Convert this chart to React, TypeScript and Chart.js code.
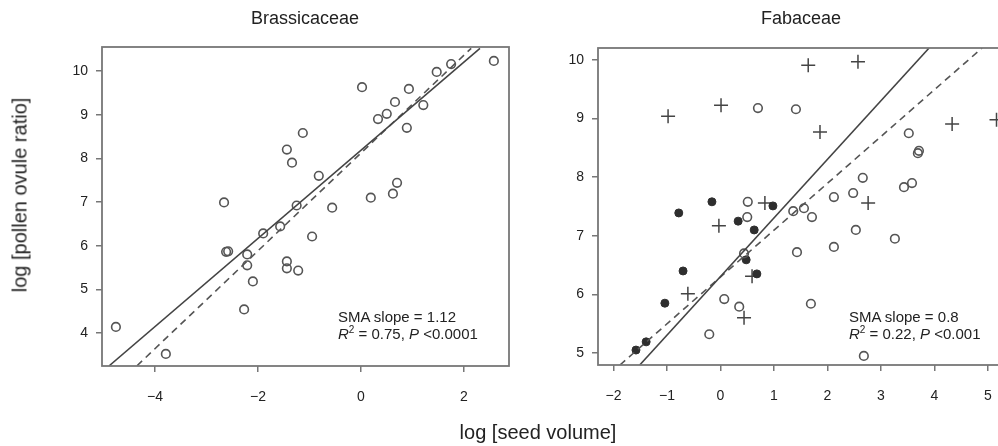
import React, { useEffect, useRef } from "react";
import { Chart, registerables } from "chart.js";

Chart.register(...registerables);

const FONT = '"Liberation Sans", Arial, Helvetica, sans-serif';
const INK = "#222222";

// ---------- Brassicaceae ----------
const brassSeed = [-4.76, -3.79, -2.66, -2.62, -2.58, -2.21, -2.21, -2.1, -2.27, -1.9, -1.57, -1.25, -1.44, -1.44, -1.22, -0.95, -0.56, 0.02, -1.13, -1.44, -1.34, -0.82, 0.19, 0.62, 0.7, 0.33, 0.5, 0.66, 0.93, 0.89, 1.21, 1.47, 1.75, 2.58];
const brassPollen = [4.14, 3.52, 6.99, 5.86, 5.87, 5.8, 5.55, 5.18, 4.54, 6.28, 6.44, 6.92, 5.64, 5.48, 5.43, 6.21, 6.87, 9.63, 8.58, 8.2, 7.9, 7.6, 7.1, 7.19, 7.44, 8.9, 9.02, 9.29, 9.59, 8.7, 9.22, 9.98, 10.16, 10.23];
const brassSolidX = [-4.89, 2.31];
const brassSolidY = [3.25, 10.52];
const brassDashX = [-4.35, 2.14];
const brassDashY = [3.25, 10.52];
const brassXTicks = [-4, -2, 0, 2];
const brassYTicks = [4, 5, 6, 7, 8, 9, 10];

// ---------- Fabaceae ----------
const fabOpenSeed = [0.7, 1.41, 3.52, 3.69, 3.71, 2.66, 3.43, 3.58, 2.12, 2.48, 1.36, 1.56, 1.71, 0.51, 0.5, 0.44, 0.07, 0.35, -0.21, 1.43, 2.12, 2.53, 3.26, 1.69, 2.68];
const fabOpenPollen = [9.18, 9.16, 8.75, 8.41, 8.45, 7.99, 7.83, 7.9, 7.66, 7.73, 7.42, 7.47, 7.32, 7.58, 7.32, 6.7, 5.92, 5.79, 5.32, 6.72, 6.81, 7.1, 6.95, 5.84, 4.95];
const fabFilledSeed = [-0.78, -0.16, 0.33, 0.63, -0.7, -1.04, 0.48, 0.68, -1.39, -1.58, 0.98];
const fabFilledPollen = [7.39, 7.58, 7.25, 7.1, 6.4, 5.85, 6.59, 6.35, 5.19, 5.05, 7.51];
const fabPlusSeed = [-0.98, 0.01, 1.64, 2.57, 1.86, 4.33, 5.16, 0.83, 2.76, -0.03, -0.61, 0.44, 0.59];
const fabPlusPollen = [9.04, 9.23, 9.91, 9.97, 8.77, 8.91, 8.98, 7.56, 7.56, 7.17, 6.01, 5.6, 6.31];
const fabSolidX = [-1.51, 3.9];
const fabSolidY = [4.795, 10.205];
const fabDashX = [-1.88, 4.89];
const fabDashY = [4.795, 10.205];
const fabXTicks = [-2, -1, 0, 1, 2, 3, 4, 5];
const fabYTicks = [5, 6, 7, 8, 9, 10];

const zip = (xs: number[], ys: number[]) => xs.map((x, i) => ({ x, y: ys[i] }));
const fmt = (v: number) => (v < 0 ? "\u2212" + Math.abs(v) : String(v));

const boxPlugin = {
  id: "panelBox",
  afterDatasetsDraw(chart: any) {
    const { ctx, chartArea: a } = chart;
    ctx.save();
    ctx.strokeStyle = "#777777";
    ctx.lineWidth = 1.8;
    ctx.strokeRect(a.left, a.top, a.right - a.left, a.bottom - a.top);
    ctx.restore();
  },
};

const openStyle = {
  pointStyle: "circle",
  pointRadius: 4.3,
  pointBorderWidth: 1.6,
  pointBackgroundColor: "rgba(0,0,0,0)",
  pointBorderColor: "#555555",
  showLine: false,
};
const filledStyle = {
  pointStyle: "circle",
  pointRadius: 4,
  pointBorderWidth: 1,
  pointBackgroundColor: "#2e2e2e",
  pointBorderColor: "#2e2e2e",
  showLine: false,
};
const plusStyle = {
  pointStyle: "cross",
  pointRadius: 7,
  pointBorderWidth: 1.5,
  pointBackgroundColor: "#444444",
  pointBorderColor: "#444444",
  showLine: false,
};
const solidLine = {
  showLine: true,
  pointRadius: 0,
  borderColor: "#444444",
  borderWidth: 1.6,
};
const dashLine = {
  showLine: true,
  pointRadius: 0,
  borderColor: "#555555",
  borderWidth: 1.6,
  borderDash: [7, 5],
};

function panelOptions(cfg: any) {
  return {
    responsive: false,
    maintainAspectRatio: false,
    animation: false,
    devicePixelRatio: 1,
    events: [],
    layout: { padding: { left: 0, top: cfg.top, right: cfg.padRight, bottom: 0 } },
    plugins: { legend: { display: false }, tooltip: { enabled: false }, title: { display: false } },
    scales: {
      x: {
        type: "linear",
        min: cfg.xMin,
        max: cfg.xMax,
        afterBuildTicks: (s: any) => {
          s.ticks = cfg.xTicks.map((v: number) => ({ value: v }));
        },
        afterFit: (s: any) => {
          s.height = cfg.xAxisHeight;
        },
        ticks: {
          callback: (v: any) => fmt(Number(v)),
          font: { family: FONT, size: 14 },
          color: INK,
          padding: 17,
          maxRotation: 0,
          autoSkip: false,
        },
        grid: { display: true, drawOnChartArea: false, drawTicks: true, tickLength: 6, color: "#777777", lineWidth: 1.5 },
        border: { display: false },
      },
      y: {
        type: "linear",
        min: cfg.yMin,
        max: cfg.yMax,
        afterBuildTicks: (s: any) => {
          s.ticks = cfg.yTicks.map((v: number) => ({ value: v }));
        },
        afterFit: (s: any) => {
          s.width = cfg.yAxisWidth;
        },
        ticks: {
          callback: (v: any) => fmt(Number(v)),
          font: { family: FONT, size: 14 },
          color: INK,
          padding: 8,
          autoSkip: false,
        },
        grid: { display: true, drawOnChartArea: false, drawTicks: true, tickLength: 6, color: "#777777", lineWidth: 1.5 },
        border: { display: false },
      },
    },
  };
}

const abs = (left: number, top: number, extra: any = {}) => ({
  position: "absolute" as const,
  left,
  top,
  whiteSpace: "nowrap" as const,
  fontFamily: FONT,
  color: INK,
  ...extra,
});

const sup = { fontSize: 10, position: "relative" as const, top: -6 };

export default function App() {
  const leftRef = useRef<HTMLCanvasElement>(null);
  const rightRef = useRef<HTMLCanvasElement>(null);

  useEffect(() => {
    const left = new Chart(leftRef.current as HTMLCanvasElement, {
      type: "scatter",
      data: {
        datasets: [
          { ...solidLine, data: zip(brassSolidX, brassSolidY) },
          { ...dashLine, data: zip(brassDashX, brassDashY) },
          { ...openStyle, data: zip(brassSeed, brassPollen) },
        ] as any,
      },
      options: panelOptions({
        top: 47,
        padRight: 21,
        xMin: -5.03,
        xMax: 2.874,
        yMin: 3.244,
        yMax: 10.55,
        xTicks: brassXTicks,
        yTicks: brassYTicks,
        xAxisHeight: 80,
        yAxisWidth: 102,
      }) as any,
      plugins: [boxPlugin],
    });
    const right = new Chart(rightRef.current as HTMLCanvasElement, {
      type: "scatter",
      data: {
        datasets: [
          { ...solidLine, data: zip(fabSolidX, fabSolidY) },
          { ...dashLine, data: zip(fabDashX, fabDashY) },
          { ...openStyle, data: zip(fabOpenSeed, fabOpenPollen) },
          { ...filledStyle, data: zip(fabFilledSeed, fabFilledPollen) },
          { ...plusStyle, data: zip(fabPlusSeed, fabPlusPollen) },
        ] as any,
      },
      options: panelOptions({
        top: 48,
        padRight: 16,
        xMin: -2.29,
        xMax: 5.3,
        yMin: 4.795,
        yMax: 10.205,
        xTicks: fabXTicks,
        yTicks: fabYTicks,
        xAxisHeight: 81,
        yAxisWidth: 68,
      }) as any,
      plugins: [boxPlugin],
    });
    return () => {
      left.destroy();
      right.destroy();
    };
  }, []);

  return (
    <div
      style={{
        position: "fixed",
        left: 0,
        top: 0,
        width: 998,
        height: 446,
        overflow: "hidden",
        background: "#ffffff",
      }}
    >
      <canvas ref={leftRef} width={530} height={446} style={{ position: "absolute", left: 0, top: 0, width: 530, height: 446 }} />
      <canvas ref={rightRef} width={490} height={446} style={{ position: "absolute", left: 530, top: 0, width: 490, height: 446 }} />

      <div style={abs(305, 18, { fontSize: 18, transform: "translate(-50%, -50%)" })}>Brassicaceae</div>
      <div style={abs(801, 18, { fontSize: 18, transform: "translate(-50%, -50%)" })}>Fabaceae</div>

      <div style={abs(20, 195, { fontSize: 20, transform: "translate(-50%, -50%) rotate(-90deg)" })}>log [pollen ovule ratio]</div>
      <div style={abs(538, 432, { fontSize: 20, transform: "translate(-50%, -50%)" })}>log [seed volume]</div>

      <div style={abs(338, 308, { fontSize: 15, lineHeight: "17px" })}>
        <div>SMA slope = 1.12</div>
        <div>
          <i>R</i>
          <span style={sup}>2</span> = 0.75, <i>P</i> &lt;0.0001
        </div>
      </div>
      <div style={abs(849, 308, { fontSize: 15, lineHeight: "17px" })}>
        <div>SMA slope = 0.8</div>
        <div>
          <i>R</i>
          <span style={sup}>2</span> = 0.22, <i>P</i> &lt;0.001
        </div>
      </div>
    </div>
  );
}
